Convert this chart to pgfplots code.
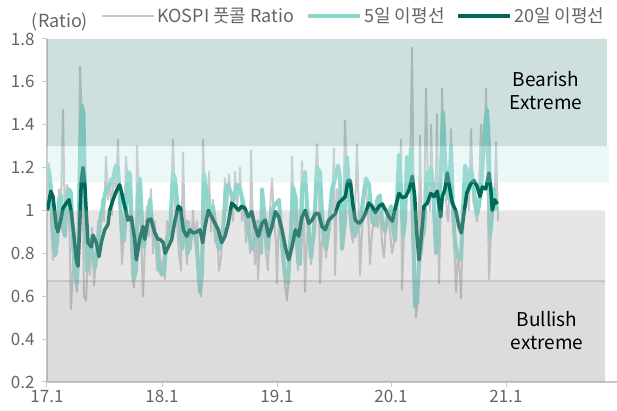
\documentclass[border=0pt]{standalone}
\usepackage{pgfplots}
\pgfplotsset{compat=1.18}
\usepackage{fontspec}
\setmainfont{Noto Sans CJK KR}
\definecolor{rawgrey}{RGB}{200,200,200}
\definecolor{mafive}{RGB}{140,215,205}
\definecolor{matwenty}{RGB}{0,105,90}
\definecolor{bandDT}{RGB}{88,152,145}
\definecolor{bandLT}{RGB}{192,228,228}
\definecolor{bandLG}{RGB}{172,172,175}
\definecolor{bandDG}{RGB}{142,138,142}
\definecolor{axgrey}{RGB}{200,200,200}
\definecolor{labgrey}{RGB}{100,100,100}
\begin{document}
\begin{tikzpicture}
\begin{axis}[
  at={(0pt,0pt)}, anchor=south west,
  scale only axis, width=570pt, height=343pt,
  xmin=7, xmax=577, ymin=0.2, ymax=1.8,
  clip mode=individual,
  axis x line=bottom, axis y line=left,
  axis line style={-},
  x axis line style={draw=axgrey, line width=1.2pt},
  y axis line style={draw=axgrey, line width=1.2pt},
  xtick={7,122,237,351,466},
  xticklabels={17.1,18.1,19.1,20.1,21.1},
  ytick={0.2,0.4,0.6,0.8,1,1.2,1.4,1.6,1.8},
  yticklabels={0.2,0.4,0.6,0.8,1,1.2,1.4,1.6,1.8},
  tick align=outside, major tick length=5pt,
  tick style={draw=axgrey, line width=1pt},
  /pgf/number format/assume math mode=true,
  ticklabel style={font=\fontsize{17}{19}\selectfont, text=labgrey},
  yticklabel style={xshift=-4pt},
  legend style={at={(axis description cs:0.095,1.067)}, anchor=west, draw=none, fill=none,
    inner sep=0pt, font=\fontsize{18}{20}\selectfont, text=labgrey,
    nodes={inner xsep=2pt, inner ysep=1pt},
    /tikz/every even column/.append style={column sep=10pt}},
  legend columns=3,
  legend image code/.code={\draw[#1, line cap=butt] (0pt,0pt) -- (52pt,0pt);},
  line join=round,
]
\addplot[rawgrey, line width=2pt] coordinates {
(7,1.05)(9,1.22)(11,0.95)(13,0.77)(15,0.85)(17,0.80)(19,1.10)(21,1.00)(23,1.47)(25,0.90)
(27,1.12)(29,1.00)(31,0.54)(33,0.75)(35,0.68)(37,0.62)(39,1.20)(40,1.67)(42,1.40)(44,0.60)
(46,0.58)(48,0.80)(50,0.70)(52,0.92)(54,0.65)(56,0.78)(58,0.95)(60,0.85)(62,1.05)(64,0.95)
(66,1.25)(68,1.05)(70,1.15)(72,0.98)(74,1.20)(76,1.10)(78,1.33)(80,1.00)(82,0.75)(84,0.90)
(86,1.25)(88,1.10)(90,1.00)(92,0.70)(94,0.64)(96,0.85)(97,1.30)(99,1.05)(101,0.90)(103,0.60)
(105,0.85)(107,1.02)(109,0.88)(111,1.10)(113,0.80)(115,0.95)(117,0.72)(119,0.85)(121,0.70)(123,0.78)
(125,0.68)(127,0.95)(129,0.88)(131,1.05)(133,1.33)(135,1.00)(137,0.95)(139,0.80)(141,0.72)(143,1.27)
(145,0.88)(147,0.75)(149,0.95)(151,0.82)(153,1.00)(155,0.85)(157,0.95)(159,0.70)(161,0.60)(163,1.33)
(165,1.05)(167,0.95)(169,1.18)(171,0.90)(173,1.05)(175,0.85)(177,0.92)(179,0.72)(181,0.78)(183,0.95)
(185,1.15)(187,1.00)(189,1.17)(191,1.05)(193,0.95)(195,1.18)(197,1.02)(199,1.10)(200,1.20)(202,0.95)
(204,1.05)(206,0.85)(208,0.95)(210,0.80)(211,1.28)(213,0.90)(215,0.75)(217,0.90)(218,0.68)(220,0.85)
(222,1.05)(224,0.90)(226,0.80)(228,0.72)(230,1.00)(232,1.15)(234,0.95)(236,0.85)(237,0.66)(239,1.00)
(241,0.85)(243,0.75)(245,0.65)(247,0.58)(249,0.72)(251,1.00)(252,1.25)(254,0.95)(256,0.85)(258,0.72)
(260,0.90)(262,1.23)(264,0.90)(265,0.62)(267,0.88)(269,0.95)(271,0.75)(273,0.90)(275,1.10)(277,1.31)
(279,1.05)(280,0.66)(282,0.85)(284,0.95)(286,0.78)(288,0.88)(290,1.05)(292,1.00)(294,1.29)(295,0.70)
(297,1.10)(299,1.05)(301,0.95)(303,0.85)(305,1.42)(307,1.15)(309,1.00)(311,0.90)(313,0.85)(315,1.00)
(317,1.31)(319,0.95)(320,0.70)(322,0.90)(324,1.05)(326,1.10)(328,1.00)(330,0.75)(332,0.90)(334,0.95)
(336,1.05)(338,0.92)(340,1.00)(342,0.85)(344,0.78)(346,0.95)(348,1.00)(350,0.90)(352,0.80)(354,0.85)
(356,1.00)(358,1.15)(360,1.05)(361,1.33)(362,0.63)(364,0.90)(366,1.05)(368,1.20)(370,1.10)(372,1.76)
(374,0.95)(376,0.50)(378,0.60)(380,1.35)(382,0.80)(384,0.95)(386,1.57)(388,1.10)(390,1.00)(391,1.40)
(393,1.05)(395,0.90)(397,1.45)(399,0.66)(401,1.10)(402,1.57)(404,1.20)(406,1.05)(408,0.95)(410,1.10)
(411,1.38)(413,0.95)(415,0.75)(416,0.62)(418,0.80)(420,0.70)(421,0.59)(423,0.95)(425,1.15)(427,1.10)
(429,1.00)(431,1.38)(433,1.05)(435,1.00)(437,0.95)(439,1.10)(441,1.40)(443,1.20)(445,1.30)(446,1.57)
(448,1.00)(449,0.68)(451,0.90)(453,1.00)(455,1.10)(456,1.32)(458,0.95)
};
\addlegendentry{KOSPI 풋콜 Ratio}
\addplot[mafive, line width=4pt] coordinates {
(7,1.15)(9,1.19)(11,1.10)(13,0.90)(15,0.79)(17,0.85)(19,1.05)(21,1.07)(23,0.92)(25,0.88)
(27,1.05)(29,1.10)(31,1.08)(33,0.85)(35,0.70)(37,0.66)(38.5,0.85)(40,1.26)(42,1.49)(43.5,1.45)
(45,1.05)(47,0.72)(49,0.78)(51,0.87)(53,0.78)(55,0.73)(57,0.80)(59,0.90)(61,0.98)(63,1.02)
(65,1.08)(67,1.10)(70,1.12)(73,1.15)(76,1.21)(78,1.20)(80,1.05)(82,0.88)(84,0.86)(86,1.00)
(88,1.18)(90,1.17)(92,0.90)(94,0.68)(96,0.72)(98,1.05)(100,1.15)(102,0.95)(104,0.83)(106,0.90)
(108,0.96)(110,1.05)(112,0.95)(115,0.88)(117,0.82)(120,0.72)(122,0.70)(124,0.72)(127,0.87)(130,0.90)
(133,1.17)(135,1.15)(137,1.05)(140,0.92)(142,0.82)(144,0.90)(146,0.95)(148,0.80)(150,0.86)(153,0.90)
(156,0.88)(160,0.62)(162,0.70)(164,1.17)(166,1.10)(168,1.05)(170,0.98)(173,1.02)(176,0.90)(178,0.83)
(180,0.82)(183,0.90)(186,1.10)(188,1.12)(191,1.08)(194,1.05)(197,1.12)(200,1.10)(203,1.04)(206,0.98)
(209,0.90)(212,0.82)(215,0.86)(218,0.95)(221,0.80)(222,1.10)(225,0.95)(228,0.82)(231,0.99)(234,1.02)
(239,1.05)(242,0.85)(245,0.70)(248,0.66)(251,0.90)(253,1.11)(256,1.05)(258,0.76)(260,0.75)(262,1.10)
(265,1.18)(268,0.95)(271,0.78)(274,0.90)(277,1.20)(280,1.18)(283,0.90)(286,0.82)(289,0.92)(292,1.10)
(295,1.15)(298,1.21)(300,1.15)(302,0.82)(305,0.95)(307,1.25)(309,1.10)(312,0.92)(315,0.88)(318,0.95)
(320,0.93)(323,1.05)(326,1.15)(329,1.12)(332,0.95)(335,0.93)(338,1.06)(340,1.07)(342,0.95)(345,0.90)
(348,0.98)(351,1.02)(353,0.92)(355,0.86)(357,1.05)(359,1.26)(361,1.10)(363,0.88)(365,0.95)(367,1.25)
(369,1.15)(371,1.29)(373,0.90)(375,0.55)(377,0.57)(379,0.75)(382,0.87)(384,0.90)(387,1.18)(389,1.12)
(391,1.20)(393,1.12)(396,0.80)(398,0.85)(401,1.20)(403,1.46)(405,1.25)(407,1.10)(409,1.05)(411,1.30)
(413,1.00)(415,0.85)(418,0.78)(421,0.77)(423,1.00)(425,1.21)(427,1.18)(429,1.10)(431,1.20)(433,1.13)
(435,1.05)(437,0.98)(439,1.02)(441,1.10)(443,1.25)(445,1.40)(447,1.47)(449,1.30)(450,0.88)(452,0.98)
(454,1.10)(456,1.03)(457,1.00)
};
\addlegendentry{5일 이평선}
\addplot[matwenty, line width=3.5pt] coordinates {
(7.5,1.00)(10.7,1.09)(13,1.065)(16.3,0.925)(18,0.90)(20.7,0.955)(23,1.01)(26.3,1.035)(29,1.05)(31.3,0.99)
(34,0.88)(36.3,0.77)(38,0.74)(39.7,0.925)(41.3,1.14)(43,1.20)(44.7,1.13)(46.3,0.99)(48,0.85)(51.3,0.83)
(53,0.885)(56.3,0.85)(59,0.785)(61.3,0.85)(64.7,0.91)(68,0.935)(69.7,1.00)(73,1.05)(76.3,1.09)(79.7,1.12)
(81.3,1.09)(84.7,1.02)(88,0.955)(91.3,0.97)(94.7,0.865)(96.3,0.77)(99.7,0.865)(103,0.925)(104.7,0.865)(108,0.955)
(111,0.96)(114.5,0.90)(118,0.865)(120,0.865)(123.3,0.85)(125,0.80)(128.3,0.83)(131.7,0.865)(135,0.955)(138.3,1.02)
(140.7,1.01)(143.3,0.91)(146.7,0.88)(150,0.91)(153.3,0.895)(156.7,0.90)(160,0.91)(162.7,0.85)(165,0.925)(168.3,1.00)
(171.7,0.97)(175,0.94)(178.3,0.91)(181.7,0.85)(185,0.88)(188.3,0.94)(191.7,1.035)(195,1.02)(198.3,1.00)(201.7,1.02)
(205,1.01)(208.3,0.97)(211.7,0.995)(215,0.925)(218.3,0.88)(222,0.94)(225.3,0.955)(228.7,0.88)(232,0.925)(235.3,0.995)
(238.7,0.97)(242,0.91)(245.3,0.83)(248.7,0.77)(252,0.83)(255.3,0.91)(258.7,0.88)(262,0.97)(265.3,1.00)(268.7,0.94)
(272,0.955)(275.3,0.985)(278.7,0.985)(282,0.925)(285.3,0.91)(288.7,0.955)(292,0.97)(295.3,0.985)(298.7,1.035)(302,1.05)
(305.3,1.065)(308,1.14)(310.3,1.14)(312.7,1.035)(315.3,0.955)(318.7,0.94)(322,0.955)(325.3,0.985)(328.7,1.035)(332,1.02)
(335.3,0.99)(339,1.02)(342.3,1.03)(345.7,1.00)(349,0.97)(352.3,0.95)(355.7,1.02)(359,1.08)(362.3,1.06)(365.7,1.065)
(369,1.095)(372.3,1.16)(374.7,1.065)(376.7,0.895)(379,0.77)(381.3,0.88)(384,1.02)(387.3,1.035)(390.7,1.08)(394,1.065)
(397.3,1.09)(400.7,0.97)(402.3,1.065)(404.7,1.095)(407.3,1.175)(410,1.095)(412.3,1.035)(415.7,1.00)(419,0.925)(421.3,0.895)
(424,0.985)(426.7,1.08)(430.7,1.125)(434,1.14)(437.3,1.11)(440,1.065)(442.3,1.11)(445.7,1.10)(449,1.175)(450.7,1.11)
(452.3,1.00)(454.7,1.05)(457.3,1.03)
};
\addlegendentry{20일 이평선}
% background zones, drawn translucent on top
\addplot[forget plot, draw=none, fill=bandDT, fill opacity=0.3] coordinates {(7,1.3)(567,1.3)(567,1.8)(7,1.8)(7,1.3)};
\addplot[forget plot, draw=none, fill=bandLT, fill opacity=0.3] coordinates {(7,1.13)(569,1.13)(569,1.3)(7,1.3)(7,1.13)};
\addplot[forget plot, draw=none, fill=bandLG, fill opacity=0.3] coordinates {(7,0.67)(565,0.67)(565,1.0)(7,1.0)(7,0.67)};
\addplot[forget plot, draw=none, fill=bandDG, fill opacity=0.3] coordinates {(7,0.2)(565,0.2)(565,0.67)(7,0.67)(7,0.2)};
\addplot[forget plot, draw=bandDG, draw opacity=0.3, line width=2pt] coordinates {(7,0.67)(565,0.67)};
\node[align=center, font=\fontsize{19}{23}\selectfont, text=black] at (axis cs:506,1.56) {Bearish\\Extreme};
\node[align=center, font=\fontsize{19}{23}\selectfont, text=black] at (axis cs:507,0.44) {Bullish\\extreme};
\node[anchor=base, font=\fontsize{18}{20}\selectfont, text=labgrey] at (axis cs:20,1.852) {(Ratio)};
\end{axis}
\pgfresetboundingbox
\useasboundingbox (-47pt,-29pt) rectangle (570pt,382pt);
\end{tikzpicture}
\end{document}
